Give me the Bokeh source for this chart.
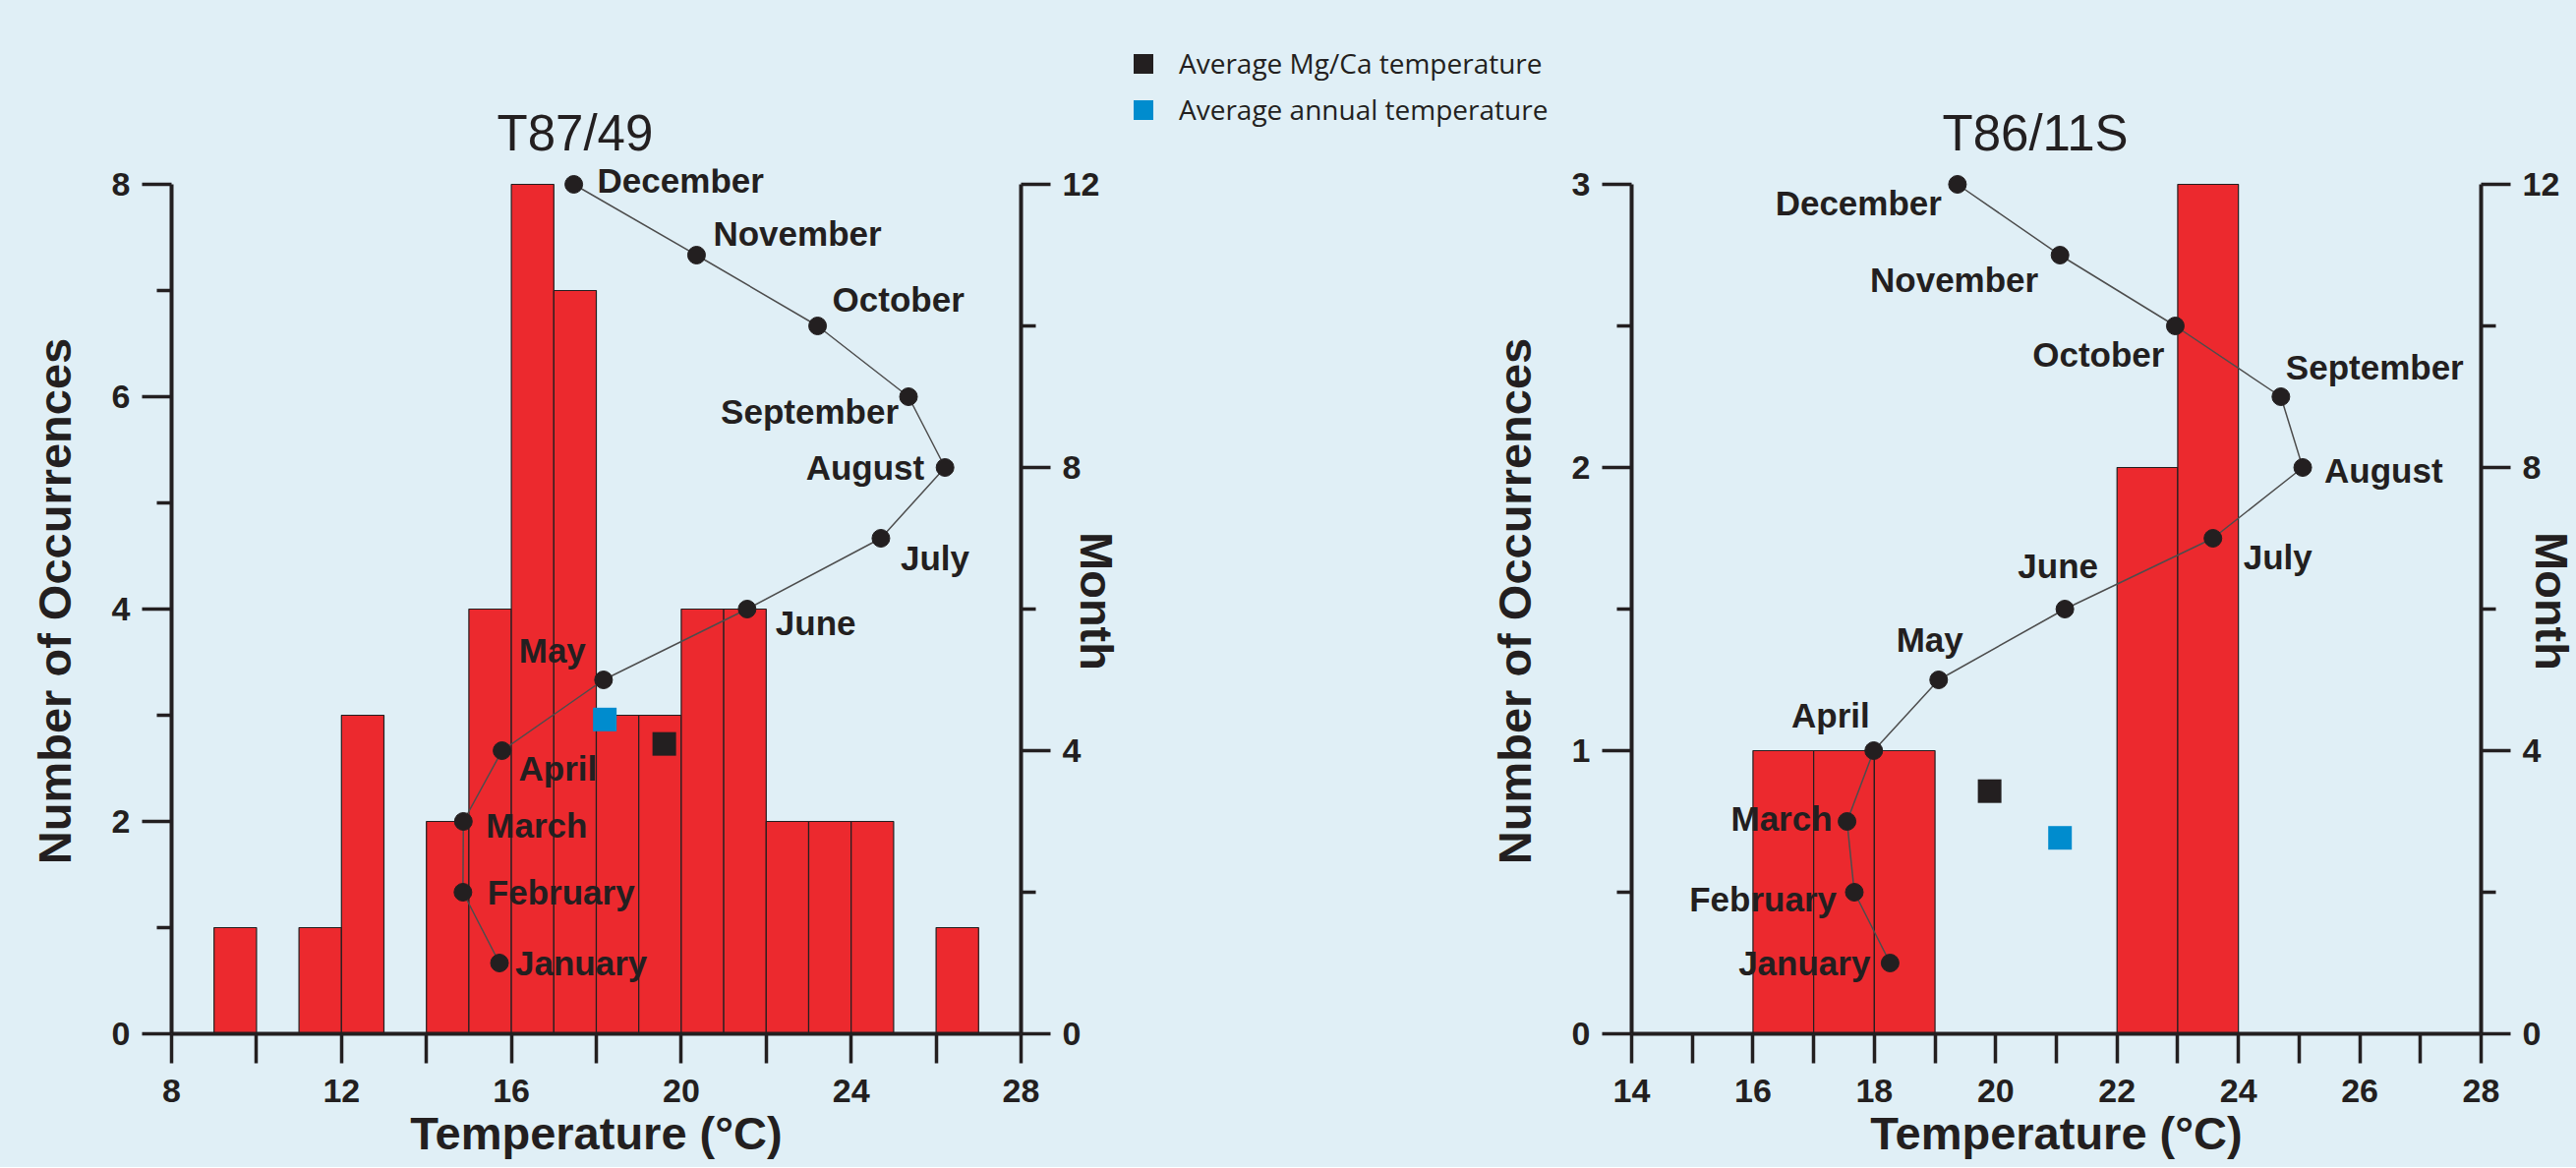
from bokeh.plotting import figure
from bokeh.models import (Range1d, LinearAxis, FixedTicker, Legend, LegendItem,
                          ColumnDataSource, LabelSet, Label, Title)
from bokeh.layouts import row, column
from bokeh.embed import file_html
from bokeh.resources import INLINE
from bokeh.core.properties import value

# ---------------- data ----------------
months = ["January", "February", "March", "April", "May", "June", "July",
          "August", "September", "October", "November", "December"]
month_numbers = [1, 2, 3, 4, 5, 6, 7, 8, 9, 10, 11, 12]
bin_width = 1

t87_bin_left = [9, 11, 12, 14, 15, 16, 17, 18, 19, 20, 21, 22, 23, 24, 26]
t87_counts = [1, 1, 3, 2, 4, 8, 7, 3, 3, 4, 4, 2, 2, 2, 1]
t87_month_temp = [15.72, 14.86, 14.87, 15.78, 18.17, 21.55, 24.70, 26.21, 25.35, 23.21, 20.36, 17.47]
t87_mgca_temp, t87_mgca_y = [19.6], [2.73]
t87_annual_temp, t87_annual_y = [18.2], [2.96]

t86_bin_left = [16, 17, 18, 22, 23]
t86_counts = [1, 1, 1, 2, 3]
t86_month_temp = [18.26, 17.67, 17.55, 17.99, 19.06, 21.14, 23.58, 25.06, 24.70, 22.96, 21.06, 19.37]
t86_mgca_temp, t86_mgca_y = [19.9], [0.857]
t86_annual_temp, t86_annual_y = [21.06], [0.692]

legend_labels = ["Average Mg/Ca temperature", "Average annual temperature"]

# ---------------- styling / placement ----------------
BG = "#E0EFF6"
INK = "#231F20"
RED = "#EC292E"
BLUE = "#008CCE"
FONT = "Liberation Sans"

# month label placement: (align, dx px, dy px downward)
t87_place = [("left", 16, 0), ("left", 25, 0), ("left", 23, 4), ("left", 17, 18),
             ("right", -18, -30), ("left", 29, 14), ("left", 20, 20), ("right", -21, 0),
             ("right", -10, 15), ("left", 15, -27), ("left", 17, -22), ("left", 24, -4)]
t86_place = [("right", -20, 0), ("right", -18, 7), ("right", -15, -3), ("right", -4, -36),
             ("center", -9, -41), ("center", -7, -44), ("left", 31, 19), ("left", 22, 3),
             ("left", 5, -30), ("right", -11, 29), ("right", -22, 25), ("right", -16, 19)]

FRAME_W = 864
FRAME_H = 880
PAD_FRAC = 880 / 864
TOP = 171
HDR_H = 166
BOTTOM = 136
P1_LEFT = 174
P1_RIGHT = 102
P2_LEFT = 514
P2_RIGHT = 102


def make_panel(bins, counts, temps, mgca, annual, xr, x_major, x_minor,
               y_top, y_major, y_minor, place, mb_left, mb_right, mb_top, month_standoff):
    y_end = y_top * PAD_FRAC
    p = figure(frame_width=FRAME_W, frame_height=FRAME_H,
               x_range=Range1d(*xr), y_range=Range1d(0, y_end),
               output_backend="svg", toolbar_location=None,
               min_border_left=mb_left, min_border_right=mb_right,
               min_border_top=mb_top, min_border_bottom=BOTTOM,
               background_fill_color=BG, border_fill_color=BG,
               outline_line_color=None)
    p.title_location = None
    p.grid.visible = False
    p.extra_y_ranges = {"month": Range1d(0, 12 * PAD_FRAC)}

    right_edges = [b + bin_width for b in bins]
    p.quad(left=bins, right=right_edges, bottom=0, top=counts,
           fill_color=RED, line_color=INK, line_width=1.2)

    p.line(temps, month_numbers, y_range_name="month", line_color="#4D4D4D", line_width=1.5)
    p.scatter(temps, month_numbers, y_range_name="month", size=18,
              fill_color=INK, line_color=INK)

    for al in ("left", "right", "center"):
        idx = [i for i, pl in enumerate(place) if pl[0] == al]
        if not idx:
            continue
        src = ColumnDataSource(dict(
            x=[temps[i] for i in idx],
            y=[month_numbers[i] for i in idx],
            t=[months[i] for i in idx],
            dx=[place[i][1] for i in idx],
            dy=[-place[i][2] for i in idx]))
        p.add_layout(LabelSet(x="x", y="y", text="t", source=src, y_range_name="month",
                              x_offset="dx", y_offset="dy", text_align=al,
                              text_baseline="middle", text_font=value(FONT),
                              text_font_style="bold", text_font_size="35px",
                              text_color=INK))

    p.rect(x=mgca[0], y=mgca[1], width=24, height=24, width_units="screen",
           height_units="screen", fill_color=INK, line_color=None)
    p.rect(x=annual[0], y=annual[1], width=24, height=24, width_units="screen",
           height_units="screen", fill_color=BLUE, line_color=None)

    ax = p.xaxis[0]
    ax.ticker = FixedTicker(ticks=x_major, minor_ticks=x_minor)
    ax.axis_label = "Temperature (°C)"
    ay = p.yaxis[0]
    ay.ticker = FixedTicker(ticks=y_major, minor_ticks=y_minor)
    ay.bounds = (0, y_top)
    ay.axis_label = "Number of Occurrences"

    am = LinearAxis(y_range_name="month",
                    ticker=FixedTicker(ticks=[0, 4, 8, 12], minor_ticks=[2, 6, 10]),
                    bounds=(0, 12), axis_label="Month")
    p.add_layout(am, "right")

    for a in (ax, ay, am):
        a.axis_line_width = 4
        a.axis_line_color = INK
        a.major_tick_line_width = 3.5
        a.minor_tick_line_width = 3.5
        a.major_tick_line_color = INK
        a.minor_tick_line_color = INK
        a.major_tick_in = 0
        a.minor_tick_in = 0
        a.major_tick_out = 30
        a.minor_tick_out = 15
        a.major_label_text_font = FONT
        a.major_label_text_font_style = "bold"
        a.major_label_text_font_size = "34px"
        a.major_label_text_color = INK
        a.major_label_standoff = 12
        a.axis_label_text_font = FONT
        a.axis_label_text_font_style = "bold"
        a.axis_label_text_font_size = "47px"
        a.axis_label_text_color = INK
    ax.minor_tick_out = 30
    ax.major_label_standoff = 16
    ax.axis_label_standoff = 2
    ay.axis_label_standoff = 29
    am.axis_label_standoff = month_standoff
    return p


# ---------- left panel ----------
p1 = make_panel(t87_bin_left, t87_counts, t87_month_temp,
                (t87_mgca_temp, t87_mgca_y), (t87_annual_temp, t87_annual_y),
                (8, 28), [8, 12, 16, 20, 24, 28], [10, 14, 18, 22, 26],
                8, [0, 2, 4, 6, 8], [1, 3, 5, 7], t87_place, P1_LEFT, P1_RIGHT, TOP, -32)
p1.add_layout(Title(text="T87/49", align="left", offset=331, text_font=FONT,
                    text_font_size="51px", text_font_style="normal",
                    text_color=INK, standoff=16), "above")

# ---------- right panel ----------
p2 = make_panel(t86_bin_left, t86_counts, t86_month_temp,
                (t86_mgca_temp, t86_mgca_y), (t86_annual_temp, t86_annual_y),
                (14, 28), [14, 16, 18, 20, 22, 24, 26, 28],
                [15, 17, 19, 21, 23, 25, 27],
                3, [0, 1, 2, 3], [0.5, 1.5, 2.5], t86_place, P2_LEFT, P2_RIGHT,
                TOP - HDR_H, -37)

# ---------- header strip above right panel: legend + right title ----------
HW = P2_LEFT + FRAME_W + P2_RIGHT
hdr = figure(width=HW, height=HDR_H, x_range=Range1d(0, HW), y_range=Range1d(HDR_H, 0),
             x_axis_location=None, y_axis_location=None,
             output_backend="svg", toolbar_location=None,
             min_border_left=0, min_border_right=0, min_border_top=0, min_border_bottom=0,
             background_fill_color=BG, border_fill_color=BG, outline_line_color=None)
hdr.title_location = None
hdr.grid.visible = False
if "frame_align" in hdr.properties():
    hdr.frame_align = False
nan = float("nan")
r_mg = hdr.rect(x=[nan], y=[nan], width=24, height=24, width_units="screen",
                height_units="screen", fill_color=INK, line_color=None)
r_an = hdr.rect(x=[nan], y=[nan], width=24, height=24, width_units="screen",
                height_units="screen", fill_color=BLUE, line_color=None)
legend = Legend(items=[LegendItem(label=legend_labels[0], renderers=[r_mg]),
                       LegendItem(label=legend_labels[1], renderers=[r_an])],
                location=(5, HDR_H - 44 - 86), orientation="vertical",
                glyph_width=25, glyph_height=25, label_height=25, spacing=9,
                label_standoff=24, padding=0, margin=0,
                border_line_alpha=0, background_fill_alpha=0,
                label_text_font="Open Sans", label_text_font_size="28px",
                label_text_color=INK)
hdr.add_layout(legend, "center")
hdr.add_layout(Label(x=P2_LEFT + 316, y=135, text="T86/11S", text_align="left",
                     text_baseline="alphabetic", text_font=FONT,
                     text_font_size="51px", text_color=INK))

right_col = column(hdr, p2, styles={"background-color": BG})
layout = row(p1, right_col, styles={"background-color": BG})
open("out.html", "w").write(file_html(layout, INLINE))
